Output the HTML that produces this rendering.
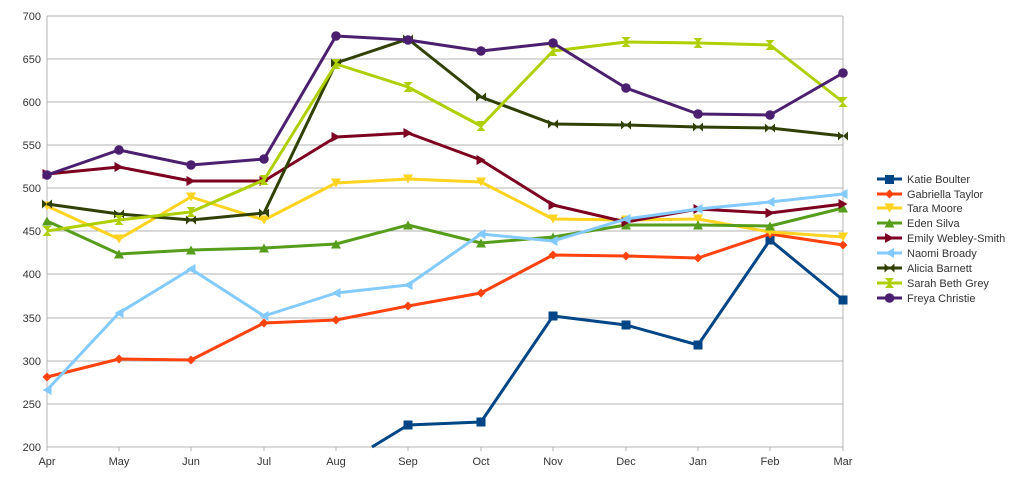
<!DOCTYPE html>
<html><head><meta charset="utf-8"><style>
html,body{margin:0;padding:0;background:#fff;}
svg{display:block;font-family:"Liberation Sans",sans-serif;}
</style></head><body>
<svg width="1024" height="477" viewBox="0 0 1024 477" xmlns="http://www.w3.org/2000/svg">
<defs>
<marker id="mK" markerUnits="userSpaceOnUse" markerWidth="12" markerHeight="12" refX="6" refY="6"><rect x="1.5" y="1.5" width="9" height="9" fill="#004586"/></marker>
<marker id="mG" markerUnits="userSpaceOnUse" markerWidth="12" markerHeight="12" refX="6" refY="6"><path d="M6 1.5L10.5 6L6 10.5L1.5 6Z" fill="#ff420e"/></marker>
<marker id="mT" markerUnits="userSpaceOnUse" markerWidth="12" markerHeight="12" refX="6" refY="6"><path d="M1 1.5H11L6 10.5Z" fill="#ffd320"/></marker>
<marker id="mE" markerUnits="userSpaceOnUse" markerWidth="12" markerHeight="12" refX="6" refY="6"><path d="M1 10.5H11L6 1.5Z" fill="#579d1c"/></marker>
<marker id="mM" markerUnits="userSpaceOnUse" markerWidth="12" markerHeight="12" refX="6" refY="6"><path d="M1.5 1L10.5 6L1.5 11Z" fill="#7e0021"/></marker>
<marker id="mN" markerUnits="userSpaceOnUse" markerWidth="12" markerHeight="12" refX="6" refY="6"><path d="M10.5 1L1.5 6L10.5 11Z" fill="#83caff"/></marker>
<marker id="mA" markerUnits="userSpaceOnUse" markerWidth="12" markerHeight="12" refX="6" refY="6"><path d="M1 1.5L6 6L1 10.5ZM11 1.5L6 6L11 10.5Z" fill="#314004"/></marker>
<marker id="mS" markerUnits="userSpaceOnUse" markerWidth="12" markerHeight="12" refX="6" refY="6"><path d="M1.5 1H10.5L6 6ZM1.5 11H10.5L6 6Z" fill="#aecf00"/></marker>
<marker id="mF" markerUnits="userSpaceOnUse" markerWidth="12" markerHeight="12" refX="6" refY="6"><circle cx="6" cy="6" r="4.8" fill="#4b1f6f"/></marker>
</defs>
<g stroke="#b3b3b3" stroke-width="1">
<line x1="47" y1="16" x2="843" y2="16"/><line x1="47" y1="59" x2="843" y2="59"/><line x1="47" y1="102" x2="843" y2="102"/><line x1="47" y1="145" x2="843" y2="145"/><line x1="47" y1="188" x2="843" y2="188"/><line x1="47" y1="231" x2="843" y2="231"/><line x1="47" y1="274" x2="843" y2="274"/><line x1="47" y1="318" x2="843" y2="318"/><line x1="47" y1="361" x2="843" y2="361"/><line x1="47" y1="404" x2="843" y2="404"/><line x1="47" y1="447" x2="843" y2="447"/>
<line x1="47" y1="16" x2="47" y2="451"/><line x1="843" y1="16" x2="843" y2="447"/>
<line x1="119" y1="447" x2="119" y2="451"/><line x1="191" y1="447" x2="191" y2="451"/><line x1="264" y1="447" x2="264" y2="451"/><line x1="336" y1="447" x2="336" y2="451"/><line x1="408" y1="447" x2="408" y2="451"/><line x1="481" y1="447" x2="481" y2="451"/><line x1="553" y1="447" x2="553" y2="451"/><line x1="626" y1="447" x2="626" y2="451"/><line x1="698" y1="447" x2="698" y2="451"/><line x1="770" y1="447" x2="770" y2="451"/><line x1="843" y1="447" x2="843" y2="451"/>
</g>
<g font-size="11" fill="#333" text-anchor="end">
<text x="41" y="20">700</text><text x="41" y="63">650</text><text x="41" y="106">600</text><text x="41" y="149">550</text><text x="41" y="192">500</text><text x="41" y="235">450</text><text x="41" y="278">400</text><text x="41" y="322">350</text><text x="41" y="365">300</text><text x="41" y="408">250</text><text x="41" y="451">200</text>
</g>
<g font-size="11" fill="#333" text-anchor="middle">
<text x="47" y="465">Apr</text><text x="119" y="465">May</text><text x="191" y="465">Jun</text><text x="264" y="465">Jul</text><text x="336" y="465">Aug</text><text x="408" y="465">Sep</text><text x="481" y="465">Oct</text><text x="553" y="465">Nov</text><text x="626" y="465">Dec</text><text x="698" y="465">Jan</text><text x="770" y="465">Feb</text><text x="843" y="465">Mar</text>
</g>
<g fill="none" stroke-width="3" stroke-linejoin="round">
<line x1="372" y1="447" x2="408" y2="425" stroke="#004586"/>
<polyline stroke="#004586" marker-start="url(#mK)" marker-mid="url(#mK)" marker-end="url(#mK)" points="408,425 481,422 553,316 626,325 698,345 770,240 843,300"/>
<polyline stroke="#ff420e" marker-start="url(#mG)" marker-mid="url(#mG)" marker-end="url(#mG)" points="47,377 119,359 191,360 264,323 336,320 408,306 481,293 553,255 626,256 698,258 770,234 843,245"/>
<polyline stroke="#ffd320" marker-start="url(#mT)" marker-mid="url(#mT)" marker-end="url(#mT)" points="47,206 119,239 191,197 264,220 336,183 408,179 481,182 553,219 626,220 698,219 770,232 843,237"/>
<polyline stroke="#579d1c" marker-start="url(#mE)" marker-mid="url(#mE)" marker-end="url(#mE)" points="47,221 119,254 191,250 264,248 336,244 408,225 481,243 553,237 626,225 698,225 770,226 843,208"/>
<polyline stroke="#7e0021" marker-start="url(#mM)" marker-mid="url(#mM)" marker-end="url(#mM)" points="47,174 119,167 191,181 264,181 336,137 408,133 481,160 553,205 626,222 698,209 770,213 843,204"/>
<polyline stroke="#83caff" marker-start="url(#mN)" marker-mid="url(#mN)" marker-end="url(#mN)" points="47,390 119,313 191,269 264,316 336,293 408,285 481,234 553,241 626,219 698,209 770,202 843,194"/>
<polyline stroke="#314004" marker-start="url(#mA)" marker-mid="url(#mA)" marker-end="url(#mA)" points="47,204 119,214 191,220 264,213 336,63 408,39 481,97 553,124 626,125 698,127 770,128 843,136"/>
<polyline stroke="#aecf00" marker-start="url(#mS)" marker-mid="url(#mS)" marker-end="url(#mS)" points="47,231 119,220 191,212 264,180 336,64 408,87 481,126 553,51 626,42 698,43 770,45 843,102"/>
<polyline stroke="#4b1f6f" marker-start="url(#mF)" marker-mid="url(#mF)" marker-end="url(#mF)" points="47,175 119,150 191,165 264,159 336,36 408,40 481,51 553,43 626,88 698,114 770,115 843,73"/>
</g>
<g stroke-width="3" font-size="11" fill="#333">
<line x1="877" y1="179" x2="902" y2="179" stroke="#004586" marker-mid="url(#mK)"/><rect x="885" y="175" width="9" height="9" fill="#004586" stroke="none"/>
<line x1="877" y1="194" x2="902" y2="194" stroke="#ff420e"/><path d="M889.5 189.5L894 194L889.5 198.5L885 194Z" fill="#ff420e" stroke="none"/>
<line x1="877" y1="208" x2="902" y2="208" stroke="#ffd320"/><path d="M884.5 203.5H894.5L889.5 212.5Z" fill="#ffd320" stroke="none"/>
<line x1="877" y1="223" x2="902" y2="223" stroke="#579d1c"/><path d="M884.5 227.5H894.5L889.5 218.5Z" fill="#579d1c" stroke="none"/>
<line x1="877" y1="238" x2="902" y2="238" stroke="#7e0021"/><path d="M885 233L894 238L885 243Z" fill="#7e0021" stroke="none"/>
<line x1="877" y1="253" x2="902" y2="253" stroke="#83caff"/><path d="M894 248L885 253L894 258Z" fill="#83caff" stroke="none"/>
<line x1="877" y1="268" x2="902" y2="268" stroke="#314004"/><path d="M884.5 263.5L889.5 268L884.5 272.5ZM894.5 263.5L889.5 268L894.5 272.5Z" fill="#314004" stroke="none"/>
<line x1="877" y1="283" x2="902" y2="283" stroke="#aecf00"/><path d="M885 278H894L889.5 283ZM885 288H894L889.5 283Z" fill="#aecf00" stroke="none"/>
<line x1="877" y1="298" x2="902" y2="298" stroke="#4b1f6f"/><circle cx="889.5" cy="298" r="4.8" fill="#4b1f6f" stroke="none"/>
<g stroke="none">
<text x="907" y="183">Katie Boulter</text>
<text x="907" y="198">Gabriella Taylor</text>
<text x="907" y="212">Tara Moore</text>
<text x="907" y="227">Eden Silva</text>
<text x="907" y="242">Emily Webley-Smith</text>
<text x="907" y="257">Naomi Broady</text>
<text x="907" y="272">Alicia Barnett</text>
<text x="907" y="287">Sarah Beth Grey</text>
<text x="907" y="302">Freya Christie</text>
</g>
</g>
</svg>
</body></html>
